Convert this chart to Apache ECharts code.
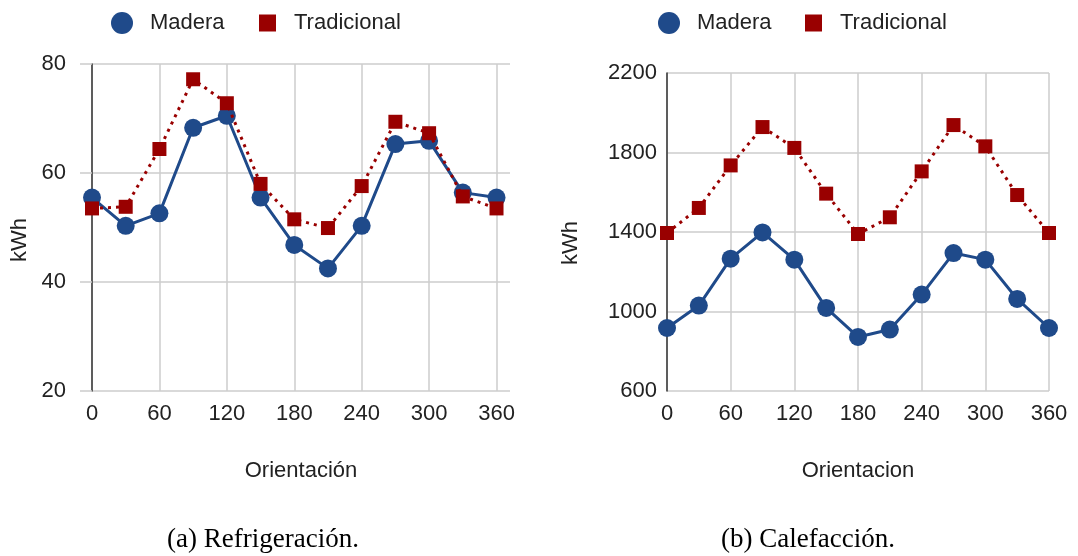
<!DOCTYPE html>
<html>
<head>
<meta charset="utf-8">
<script src="https://cdn.jsdelivr.net/npm/echarts@6/dist/echarts.min.js"></script>
<style>
  html, body { margin: 0; padding: 0; background: #fff; }
  #chart { width: 1078px; height: 556px; }
</style>
</head>
<body>
<div id="chart"></div>
<script>
// ---- data ----
const angles = [0, 30, 60, 90, 120, 150, 180, 210, 240, 270, 300, 330, 360];
const seriesNames = ['Madera', 'Tradicional'];
const refMadera = [55.5, 50.3, 52.6, 68.3, 70.5, 55.5, 46.8, 42.5, 50.3, 65.3, 65.9, 56.4, 55.5];
const refTradicional = [53.5, 53.8, 64.4, 77.2, 72.8, 58.0, 51.5, 49.9, 57.6, 69.4, 67.3, 55.7, 53.5];
const calMadera = [917, 1030, 1266, 1398, 1261, 1018, 872, 909, 1085, 1294, 1261, 1063, 917];
const calTradicional = [1395, 1521, 1735, 1928, 1823, 1593, 1390, 1474, 1705, 1938, 1831, 1586, 1395];
const xTitles = ['Orientación', 'Orientacion'];
const yTitle = 'kWh';
const captions = ['(a) Refrigeración.', '(b) Calefacción.'];

// ---- style ----
const BLUE = '#1f4a8a';
const RED = '#990000';
const GRID = '#cccccc';
const TXT = '#222222';
const FONT = 'Liberation Sans, Arial, sans-serif';
const SERIF = 'Liberation Serif, Times New Roman, serif';

const pairs = vals => angles.map((a, i) => [a, vals[i]]);

function maderaSeries(xi, vals) {
  return {
    name: seriesNames[0], type: 'line', xAxisIndex: xi, yAxisIndex: xi,
    data: pairs(vals), symbol: 'circle', symbolSize: 18,
    lineStyle: { color: BLUE, width: 3 }, itemStyle: { color: BLUE },
    z: 2
  };
}
function tradSeries(xi, vals) {
  return {
    name: seriesNames[1], type: 'line', xAxisIndex: xi, yAxisIndex: xi,
    data: pairs(vals), symbol: 'rect', symbolSize: 14,
    lineStyle: { color: RED, width: 3, type: [3, 5] }, itemStyle: { color: RED },
    z: 3
  };
}

function legend(name, icon, size, left, pad) {
  return {
    data: [name], icon: icon, itemWidth: size, itemHeight: size,
    left: left, top: 12, padding: 0, itemGap: 0,
    textStyle: { fontFamily: FONT, fontSize: 22, color: TXT, padding: [0, 0, 0, pad] }
  };
}

const tickLabel = { fontFamily: FONT, fontSize: 22, color: TXT, formatter: v => String(v) };

const option = {
  animation: false,
  backgroundColor: '#ffffff',
  legend: [
    legend(seriesNames[0], 'circle', 22, 111, 12),
    legend(seriesNames[1], 'rect', 17, 259, 13),
    legend(seriesNames[0], 'circle', 22, 658, 12),
    legend(seriesNames[1], 'rect', 17, 805, 13)
  ],
  grid: [
    { left: 92, right: 568, top: 64, bottom: 165 },
    { left: 667, right: 29, top: 73, bottom: 165 }
  ],
  xAxis: [
    {
      type: 'value', gridIndex: 0, min: 0, max: 372, interval: 60,
      name: xTitles[0], nameLocation: 'middle', nameGap: 69,
      nameTextStyle: { fontFamily: FONT, fontSize: 22, color: TXT },
      axisLine: { show: false }, axisTick: { show: false },
      axisLabel: Object.assign({ margin: 12, showMaxLabel: false }, tickLabel),
      splitLine: { show: true, showMaxLine: false, lineStyle: { color: GRID, width: 1.5 } }
    },
    {
      type: 'value', gridIndex: 1, min: 0, max: 360, interval: 60,
      name: xTitles[1], nameLocation: 'middle', nameGap: 69,
      nameTextStyle: { fontFamily: FONT, fontSize: 22, color: TXT },
      axisLine: { show: false }, axisTick: { show: false },
      axisLabel: Object.assign({ margin: 12 }, tickLabel),
      splitLine: { show: true, lineStyle: { color: GRID, width: 1.5 } }
    }
  ],
  yAxis: [
    {
      type: 'value', gridIndex: 0, min: 20, max: 80, interval: 20,
      axisLine: { show: true, lineStyle: { color: '#333333', width: 1.5 } },
      axisTick: { show: true, length: 12, lineStyle: { color: GRID, width: 1.5 } },
      axisLabel: Object.assign({ margin: 26 }, tickLabel),
      splitLine: { show: true, lineStyle: { color: GRID, width: 1.5 } }
    },
    {
      type: 'value', gridIndex: 1, min: 600, max: 2200, interval: 400,
      axisLine: { show: true, lineStyle: { color: '#333333', width: 1.5 } },
      axisTick: { show: false },
      axisLabel: Object.assign({ margin: 10 }, tickLabel),
      splitLine: { show: true, lineStyle: { color: GRID, width: 1.5 } }
    }
  ],
  series: [
    maderaSeries(0, refMadera), tradSeries(0, refTradicional),
    maderaSeries(1, calMadera), tradSeries(1, calTradicional)
  ],
  graphic: [
    { type: 'text', x: 20, y: 240, rotation: Math.PI / 2, style: { text: yTitle, fontFamily: FONT, fontSize: 22, fill: TXT, align: 'center', verticalAlign: 'middle' } },
    { type: 'text', x: 571, y: 243, rotation: Math.PI / 2, style: { text: yTitle, fontFamily: FONT, fontSize: 22, fill: TXT, align: 'center', verticalAlign: 'middle' } },
    { type: 'text', x: 263, y: 540, style: { text: captions[0], fontFamily: SERIF, fontSize: 27, fill: '#000', align: 'center', verticalAlign: 'middle' } },
    { type: 'text', x: 808, y: 540, style: { text: captions[1], fontFamily: SERIF, fontSize: 27, fill: '#000', align: 'center', verticalAlign: 'middle' } }
  ]
};

const chart = echarts.init(document.getElementById('chart'), null, { renderer: 'canvas' });
chart.setOption(option);
</script>
</body>
</html>
